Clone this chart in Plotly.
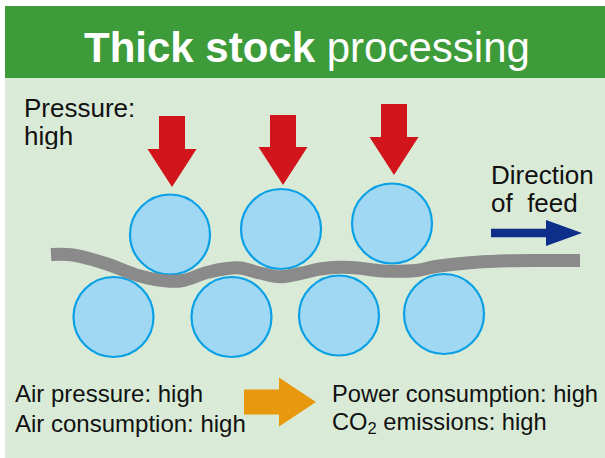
import plotly.graph_objects as go

# ---------------- data ----------------
title_bold = "Thick stock"
title_rest = "processing"

top_roll_x = [170, 281, 392]
top_roll_y = [234.5, 229, 223.5]
bottom_roll_x = [113.5, 231.5, 339, 444]
bottom_roll_y = [317, 317, 315.5, 314]
roll_radius = 40

press_tip_x = [172, 283, 394]
press_tip_y = [187, 185, 175]
press_top_y = [116, 115, 104]

sheet_x = [51, 73, 107, 140, 167, 183, 207, 227, 240, 260, 280, 300, 320, 340,
           360, 380, 400, 420, 433, 467, 500, 540, 580]
sheet_y = [254.5, 255, 264, 276, 281, 280.5, 272.5, 268.5, 268, 273, 276.7, 273.5,
           269, 267.3, 268.3, 270.8, 271.3, 270, 267, 263, 261, 260.5, 260.5]

feed_arrow_x = [491, 546, 582]
feed_arrow_y = 233

flow_arrow_x = [244, 279, 316]
flow_arrow_y = 402

pressure_lines = ["Pressure:", "high"]
direction_lines = ["Direction", "of  feed"]
left_lines = ["Air pressure: high", "Air consumption: high"]
right_lines = ["Power consumption: high", "CO<sub>2</sub> emissions: high"]

W, H = 605, 458
FONT = "Liberation Sans, Arial, sans-serif"

fig = go.Figure()

shapes = []
# panels
shapes.append(dict(type="rect", x0=5, x1=W, y0=78, y1=H, fillcolor="#D9EBD7",
                   line=dict(width=0), layer="below"))
shapes.append(dict(type="rect", x0=5, x1=W, y0=6, y1=78, fillcolor="#3D9B3A",
                   line=dict(width=0), layer="below"))
# rollers
for cx, cy in list(zip(top_roll_x, top_roll_y)) + list(zip(bottom_roll_x, bottom_roll_y)):
    shapes.append(dict(type="circle", x0=cx - roll_radius, x1=cx + roll_radius,
                       y0=cy - roll_radius, y1=cy + roll_radius,
                       fillcolor="#A0D8F4", line=dict(color="#0AA0E6", width=2.2),
                       layer="below"))


def down_arrow(tx, ty, top, shaft_w=26, head_w=49, head_len=38):
    hs = ty - head_len
    xs = [tx - shaft_w / 2, tx + shaft_w / 2, tx + shaft_w / 2, tx + head_w / 2, tx,
          tx - head_w / 2, tx - shaft_w / 2, tx - shaft_w / 2]
    ys = [top, top, hs, hs, ty, hs, hs, top]
    return xs, ys


for tx, ty, top in zip(press_tip_x, press_tip_y, press_top_y):
    xs, ys = down_arrow(tx, ty, top)
    fig.add_trace(go.Scatter(x=xs, y=ys, mode="lines", fill="toself",
                             fillcolor="#D2141C", line=dict(width=0, color="#D2141C"),
                             hoverinfo="skip", showlegend=False))

# paper sheet
fig.add_trace(go.Scatter(x=sheet_x, y=sheet_y, mode="lines",
                         line=dict(color="#8A8A8A", width=13, shape="spline", smoothing=1),
                         hoverinfo="skip", showlegend=False))


def right_arrow(x0, xh, xt, cy, shaft_h, head_h):
    xs = [x0, xh, xh, xt, xh, xh, x0, x0]
    ys = [cy - shaft_h / 2, cy - shaft_h / 2, cy - head_h / 2, cy, cy + head_h / 2,
          cy + shaft_h / 2, cy + shaft_h / 2, cy - shaft_h / 2]
    return xs, ys


xs, ys = right_arrow(*feed_arrow_x, feed_arrow_y, 8.5, 26)
fig.add_trace(go.Scatter(x=xs, y=ys, mode="lines", fill="toself", fillcolor="#0D2F8A",
                         line=dict(width=0, color="#0D2F8A"), hoverinfo="skip",
                         showlegend=False))

xs, ys = right_arrow(*flow_arrow_x, flow_arrow_y, 25, 49)
fig.add_trace(go.Scatter(x=xs, y=ys, mode="lines", fill="toself", fillcolor="#E8980C",
                         line=dict(width=0, color="#E8980C"), hoverinfo="skip",
                         showlegend=False))

ann = []
ann.append(dict(x=306.5, y=47.5, text=f"<b>{title_bold}</b> {title_rest}",
                font=dict(family=FONT, size=42, color="white"),
                xanchor="center", yanchor="middle", showarrow=False))


def add_lines(lines, x, ys, size, box_h):
    for t, y in zip(lines, ys):
        ann.append(dict(x=x, y=y, text=t, font=dict(family=FONT, size=size, color="#111111"),
                        xanchor="left", yanchor="middle", showarrow=False,
                        height=box_h, valign="middle", borderpad=0))


add_lines(pressure_lines, 23, [107.4, 135.7], 26, 27)
add_lines(direction_lines, 490, [174.7, 202.4], 26, 27)
add_lines(left_lines, 13.5, [393.4, 423.4], 24, 29)
add_lines(right_lines, 331, [393.4, 423.4], 23.7, 29)

fig.update_layout(
    width=W, height=H, margin=dict(l=0, r=0, t=0, b=0),
    paper_bgcolor="white", plot_bgcolor="white",
    xaxis=dict(range=[0, W], visible=False, fixedrange=True),
    yaxis=dict(range=[H, 0], visible=False, fixedrange=True),
    shapes=shapes, annotations=ann, showlegend=False,
)

fig.write_html("out.html", config={"displayModeBar": False},
               post_script="document.body.style.margin='0';document.body.style.overflow='hidden';")
